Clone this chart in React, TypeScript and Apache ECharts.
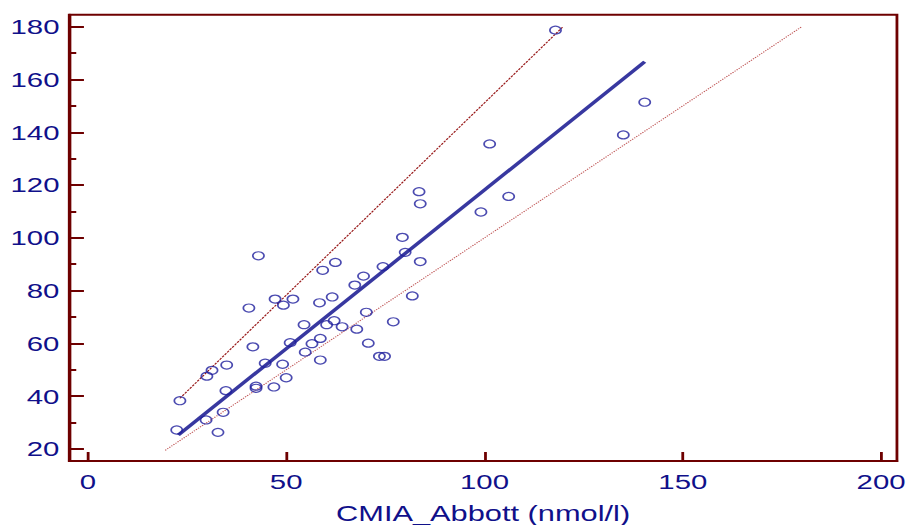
import React, { useEffect, useRef } from "react";
import * as echarts from "echarts";

// Scatter data: CMIA_Abbott (x) vs comparison method (y)
const xValues = [
  22.4, 23.2, 29.8, 34.1, 32.8, 34.8, 30.0, 31.3, 35.0, 40.6,
  41.6, 43.0, 42.4, 42.4, 44.7, 46.9, 47.2, 49.3, 51.7, 49.1,
  50.0, 51.0, 54.5, 54.8, 56.5, 58.4, 58.6, 58.6, 59.2, 60.2,
  61.6, 62.4, 62.1, 64.1, 67.3, 67.8, 69.5, 70.2, 70.7, 73.5,
  74.8, 74.4, 77.0, 79.3, 80.0, 81.8, 83.5, 83.8, 83.8, 99.1,
  101.3, 106.1, 117.9, 135.0, 140.4,
];
const yValues = [
  27.2, 38.3, 31.0, 33.9, 26.3, 42.1, 47.6, 49.8, 51.8, 73.4,
  58.7, 93.2, 43.8, 43.0, 52.5, 43.5, 76.8, 74.5, 76.8, 52.1,
  47.0, 60.3, 67.1, 56.7, 59.9, 75.4, 61.9, 53.7, 87.7, 67.1,
  77.6, 90.7, 68.6, 66.3, 82.1, 65.4, 85.5, 71.8, 60.1, 55.1,
  55.1, 89.1, 68.2, 100.2, 94.5, 78.0, 117.5, 112.9, 91.0, 109.8,
  135.6, 115.7, 178.7, 139.0, 151.4,
];

// Fitted lines (endpoints)
const regressionLine = [[22.8, 25.3], [140.4, 166.7]];
const upperLine = [[23.2, 39.2], [119.8, 180.0]];
const identityLine = [[19.5, 19.5], [180.0, 180.0]];

// Ticks
const xTicks = [0, 50, 100, 150, 200];
const yTicks = [20, 40, 60, 80, 100, 120, 140, 160, 180];
const yMinorTicks = [30, 50, 70, 90, 110, 130, 150, 170];

const xTitle = "CMIA_Abbott (nmol/l)";

const AXIS_COLOR = "#6e0000";
const LABEL_COLOR = "#10108a";
const FONT = "'Liberation Sans', Arial, sans-serif";

const INNER_W = 649;
const SCALE_X = 908 / INNER_W;

export default function App() {
  const ref = useRef<HTMLDivElement>(null);

  useEffect(() => {
    if (!ref.current) return;
    const chart = echarts.init(ref.current, undefined, { renderer: "svg" });
    const points = xValues.map((x, i) => [x, yValues[i]]);
    const yMin = 15.45;
    const yMax = 184.55;
    chart.setOption({
      animation: false,
      backgroundColor: "#ffffff",
      grid: {
        left: 49.5,
        right: 7.9,
        top: 14.7,
        bottom: 64,
        outerBoundsMode: "none",
        containLabel: false,
        show: true,
        borderColor: AXIS_COLOR,
        borderWidth: 2,
        backgroundColor: "transparent",
      },
      xAxis: [
        {
          type: "value",
          min: -4.7,
          max: 204,
          axisLine: { show: true, onZero: false, lineStyle: { color: AXIS_COLOR, width: 2 } },
          axisTick: {
            show: true,
            inside: true,
            length: 9,
            customValues: xTicks,
            lineStyle: { color: AXIS_COLOR, width: 2 },
          },
          axisLabel: {
            customValues: xTicks,
            color: LABEL_COLOR,
            fontSize: 21,
            fontFamily: FONT,
            margin: 10,
          },
          splitLine: { show: false },
          name: xTitle,
          nameLocation: "middle",
          nameGap: 42,
          nameTextStyle: { color: LABEL_COLOR, fontSize: 22, fontFamily: FONT },
        },
      ],
      yAxis: [
        {
          type: "value",
          min: yMin,
          max: yMax,
          axisLine: { show: true, onZero: false, lineStyle: { color: AXIS_COLOR, width: 2 } },
          axisTick: {
            show: true,
            inside: true,
            length: 10.5,
            customValues: yTicks,
            lineStyle: { color: AXIS_COLOR, width: 2 },
          },
          axisLabel: {
            customValues: yTicks,
            color: LABEL_COLOR,
            fontSize: 21,
            fontFamily: FONT,
            margin: 7,
          },
          splitLine: { show: false },
        },
        {
          type: "value",
          min: yMin,
          max: yMax,
          position: "left",
          axisLine: { show: false, onZero: false },
          axisTick: {
            show: true,
            inside: true,
            length: 5,
            customValues: yMinorTicks,
            lineStyle: { color: AXIS_COLOR, width: 2 },
          },
          axisLabel: { show: false },
          splitLine: { show: false },
        },
      ],
      series: [
        {
          type: "line",
          data: identityLine,
          showSymbol: false,
          lineStyle: { color: "#c05858", width: 1, type: "dotted" },
          z: 2,
        },
        {
          type: "line",
          data: upperLine,
          showSymbol: false,
          lineStyle: { color: "#991a1a", width: 1, type: [2, 1] },
          z: 2,
        },
        {
          type: "line",
          data: regressionLine,
          showSymbol: false,
          lineStyle: { color: "#3838a0", width: 3 },
          z: 3,
        },
        {
          type: "scatter",
          data: points,
          symbol: "circle",
          symbolSize: 8,
          itemStyle: { color: "transparent", borderColor: "#1e1e9c", borderWidth: 1.2 },
          z: 4,
        },
      ],
    });
    return () => chart.dispose();
  }, []);

  return (
    <div
      style={{
        position: "fixed",
        left: 0,
        top: 0,
        width: 908,
        height: 525,
        overflow: "hidden",
        background: "#ffffff",
      }}
    >
      <div
        ref={ref}
        style={{
          width: INNER_W,
          height: 525,
          transform: `scaleX(${SCALE_X})`,
          transformOrigin: "0 0",
        }}
      />
    </div>
  );
}
